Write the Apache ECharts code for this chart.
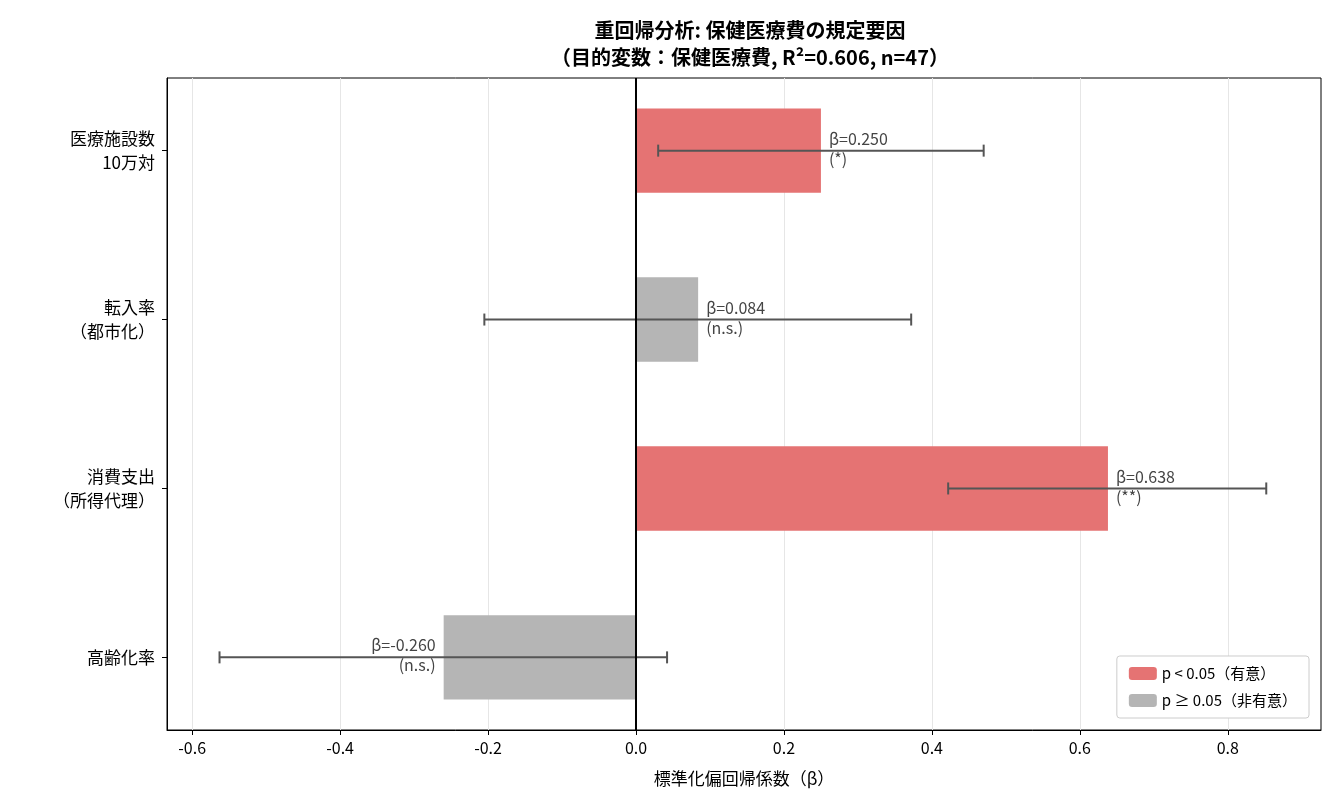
<!DOCTYPE html>
<html><head><meta charset="utf-8">
<script src="https://cdn.jsdelivr.net/npm/echarts@6/dist/echarts.min.js"></script>
<style>body{margin:0}#c{width:1335px;height:810px}</style></head>
<body><div id="c"></div>
<script>
const categories = ['高齢化率', '消費支出\n（所得代理）', '転入率\n（都市化）', '医療施設数\n10万対'];
const betas = [-0.260, 0.638, 0.084, 0.250];
const ciLow = [-0.563, 0.422, -0.205, 0.030];
const ciHigh = [0.042, 0.852, 0.372, 0.470];
const sigLabels = ['(n.s.)', '(**)', '(n.s.)', '(*)'];
const significant = [false, true, false, true];
const xTicks = [-0.6, -0.4, -0.2, 0.0, 0.2, 0.4, 0.6, 0.8];

const RED = '#e57373', GRAY = '#b5b5b5', F = '"Noto Sans CJK JP", sans-serif';
const chart = echarts.init(document.getElementById('c'));
const data = betas.map((b, i) => [i, b, ciLow[i], ciHigh[i], significant[i] ? 1 : 0]);
chart.setOption({
  animation: false,
  textStyle: { fontFamily: F },
  title: { text: '重回帰分析: 保健医療費の規定要因\n（目的変数：保健医療費, R²=0.606, n=47）', left: 745, top: 12, textAlign: 'center',
    textStyle: { fontSize: 20, fontWeight: 'bold', lineHeight: 27, color: '#000', fontFamily: F } },
  grid: { left: 167, right: 14, top: 78, bottom: 80, show: true, borderColor: '#000', borderWidth: 1 },
  xAxis: { type: 'value', min: -0.634, max: 0.926,
    axisLabel: { customValues: xTicks, formatter: v => v.toFixed(1), fontSize: 16, color: '#000', margin: 10 },
    axisTick: { customValues: xTicks, length: 5, lineStyle: { color: '#000' } },
    splitLine: { show: true, lineStyle: { color: '#e6e6e6' } },
    axisLine: { onZero: false, lineStyle: { color: '#000' } },
    name: '標準化偏回帰係数（β）', nameLocation: 'middle', nameGap: 40, nameTextStyle: { fontSize: 17, color: '#000' } },
  yAxis: { type: 'value', min: -0.43, max: 3.43,
    axisLabel: { customValues: [0, 1, 2, 3], formatter: v => categories[Math.round(v)], fontSize: 17, color: '#000', lineHeight: 24, align: 'right', margin: 12 },
    axisTick: { customValues: [0, 1, 2, 3], length: 5, lineStyle: { color: '#000' } },
    splitLine: { show: false }, axisLine: { show: true, onZero: false, lineStyle: { color: '#000' } } },
  legend: { right: 26, bottom: 92, orient: 'vertical', itemWidth: 28, itemHeight: 13, itemGap: 12,
    padding: [10, 12], borderColor: '#ccc', borderWidth: 1, borderRadius: 3, backgroundColor: '#fff',
    textStyle: { fontSize: 15, color: '#000' },
    data: [{ name: 'p < 0.05（有意）', itemStyle: { color: RED } }, { name: 'p ≥ 0.05（非有意）', itemStyle: { color: GRAY } }] },
  series: [
    { name: 'p < 0.05（有意）', type: 'custom', itemStyle: { color: RED }, data: [] },
    { name: 'p ≥ 0.05（非有意）', type: 'custom', itemStyle: { color: GRAY }, data: [] },
    { type: 'custom', data: data, encode: { x: [1, 2, 3], y: 0 }, z: 3,
      renderItem: (params, api) => {
        const y = api.value(0), b = api.value(1), lo = api.value(2), hi = api.value(3), sig = api.value(4);
        const p0 = api.coord([0, y]), pb = api.coord([b, y]);
        const h = api.size([0, 0.5])[1];
        const pl = api.coord([lo, y]), ph = api.coord([hi, y]);
        const ls = { stroke: '#555', lineWidth: 2 };
        const i = params.dataIndex;
        const neg = b < 0;
        return { type: 'group', children: [
          { type: 'rect', shape: { x: Math.min(p0[0], pb[0]), y: p0[1] - h / 2, width: Math.abs(pb[0] - p0[0]), height: h },
            style: { fill: sig ? RED : GRAY } },
          { type: 'line', shape: { x1: pl[0], y1: pl[1], x2: ph[0], y2: ph[1] }, style: ls },
          { type: 'line', shape: { x1: pl[0], y1: pl[1] - 6, x2: pl[0], y2: pl[1] + 6 }, style: ls },
          { type: 'line', shape: { x1: ph[0], y1: ph[1] - 6, x2: ph[0], y2: ph[1] + 6 }, style: ls },
          { type: 'text', x: pb[0] + (neg ? -8 : 8), y: pb[1] - 22,
            style: { text: 'β=' + b.toFixed(3) + '\n' + sigLabels[i], fontSize: 16, fill: '#444', lineHeight: 20,
              align: neg ? 'right' : 'left', fontFamily: F } }
        ] };
      } },
    { type: 'line', data: [[0, -0.43], [0, 3.43]], showSymbol: false, z: 4, lineStyle: { color: '#000', width: 2 }, silent: true }
  ]
});
</script></body></html>
